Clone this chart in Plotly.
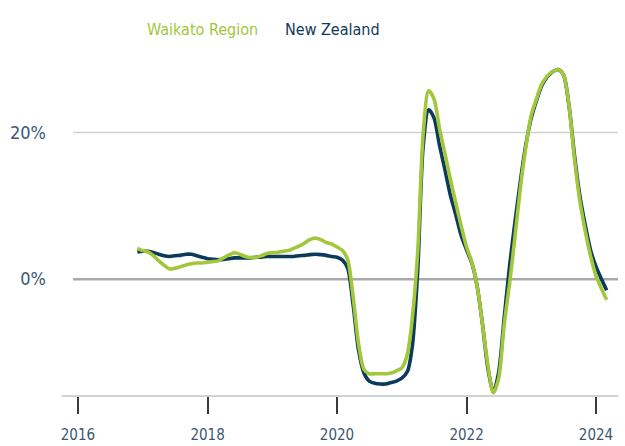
import pandas as pd
import plotly.graph_objects as go

# Monthly annual % change, Dec 2016 - Mar 2024
months = pd.date_range("2016-12-01", periods=88, freq="MS")

waikato = [4.2, 3.9, 3.7, 3.2, 2.5, 1.9, 1.4, 1.5, 1.7, 1.95, 2.1, 2.2,
           2.2, 2.3, 2.4, 2.5, 2.9, 3.3, 3.6, 3.4, 3.1, 2.95, 3.0, 3.2,
           3.5, 3.6, 3.65, 3.8, 3.9, 4.2, 4.5, 4.9, 5.4, 5.6, 5.4, 5.0,
           4.8, 4.4, 3.9, 2.7, -2.4, -8.7, -12.3, -12.9, -12.9, -12.9, -12.9, -12.8,
           -12.5, -12.1, -10.2, -5.3, 4.0, 19.8, 25.7, 24.6, 20.6, 17.1, 13.7, 10.4,
           7.3, 4.4, 2.2, -0.9, -6.2, -11.7, -15.5, -13.5, -6.2, -0.5, 5.8, 12.6,
           18.0, 22.4, 24.7, 26.6, 27.7, 28.3, 28.6, 27.9, 23.8, 16.5, 10.8, 6.6,
           3.2, 0.45, -1.3, -2.8]

new_zealand = [3.7, 3.8, 3.8, 3.65, 3.4, 3.2, 3.1, 3.2, 3.25, 3.4, 3.4, 3.2,
               3.0, 2.8, 2.7, 2.65, 2.7, 2.8, 2.9, 2.9, 2.9, 2.9, 3.0, 3.0,
               3.1, 3.1, 3.1, 3.1, 3.1, 3.1, 3.2, 3.25, 3.35, 3.4, 3.35, 3.25,
               3.1, 3.0, 2.6, 1.5, -3.5, -9.6, -12.8, -13.9, -14.2, -14.3, -14.3, -14.1,
               -13.9, -13.5, -12.6, -9.1, 1.5, 18.1, 23.1, 22.0, 18.3, 14.9, 11.5, 8.8,
               6.0, 4.0, 2.1, -0.9, -6.2, -12.1, -15.4, -12.7, -5.3, 1.9, 7.8, 13.5,
               18.3, 22.0, 24.5, 26.4, 27.6, 28.3, 28.6, 27.9, 23.8, 17.0, 11.5, 7.4,
               4.0, 1.7, 0.0, -1.5]

series_names = ["Waikato Region", "New Zealand"]
y_ticks = [0, 20]
y_tick_text = ["0%", "20%"]

GREEN = "#a2c73b"
NAVY = "#0c3a5b"
TEXT = "#3b5774"
FONT = "DejaVu Sans Condensed, Liberation Sans Narrow, sans-serif"

fig = go.Figure()
fig.add_trace(go.Scatter(x=months, y=new_zealand, mode="lines", name=series_names[1],
                         line=dict(color=NAVY, width=3.6, shape="spline", smoothing=0.8),
                         showlegend=False))
fig.add_trace(go.Scatter(x=months, y=waikato, mode="lines", name=series_names[0],
                         line=dict(color=GREEN, width=3.6, shape="spline", smoothing=0.8),
                         showlegend=False))

# horizontal reference lines at the labelled values
for v in y_ticks:
    fig.add_shape(type="line", xref="paper", yref="y", x0=0.02, x1=1, y0=v, y1=v,
                  line=dict(color="#a9a9a9" if v == 0 else "#cfd2d4",
                            width=2.5 if v == 0 else 1.5),
                  layer="below")

# text-only legend
for name, color, xc in [(series_names[0], GREEN, 0.2518), (series_names[1], NAVY, 0.4874)]:
    fig.add_annotation(text=name, xref="paper", yref="paper", x=xc, y=1.0896,
                       xanchor="center", yanchor="middle", showarrow=False,
                       font=dict(family=FONT, size=16, color=color))

fig.update_layout(
    width=625, height=446,
    margin=dict(l=62, r=7, t=60, b=51),
    paper_bgcolor="white", plot_bgcolor="white",
    font=dict(family=FONT, color=TEXT),
    xaxis=dict(
        type="date",
        range=["2015-10-03", "2024-05-04"],
        tick0="2016-01-01", dtick="M24", tickformat="%Y",
        showgrid=False, zeroline=False, automargin=False,
        showline=True, linecolor="#cfd3d6", linewidth=2,
        ticks="outside", ticklen=17, tickwidth=1.5, tickcolor="#3a3a3a",
        ticklabelstandoff=8,
        tickfont=dict(family=FONT, size=15, color=TEXT),
    ),
    yaxis=dict(
        range=[-15.8, 29.9],
        tickvals=y_ticks, ticktext=y_tick_text,
        showgrid=False, zeroline=False, showline=False, ticks="",
        automargin=False,
        ticklabelstandoff=15,
        tickfont=dict(family=FONT, size=18, color=TEXT),
    ),
)

fig.write_html("out.html")
